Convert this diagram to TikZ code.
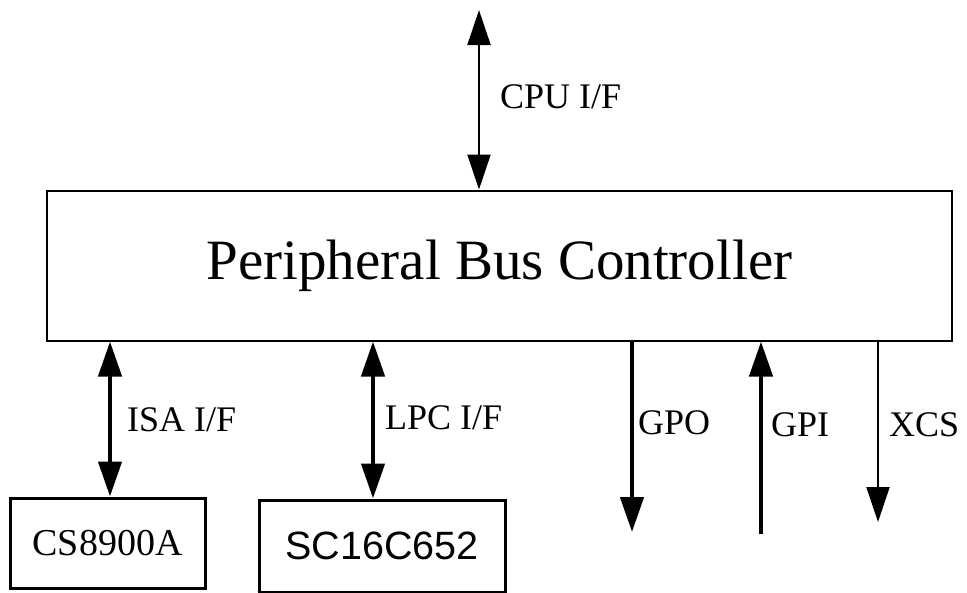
\documentclass[tikz,border=0pt]{standalone}
\usepackage{fontspec}
\setmainfont{Liberation Serif}
\newfontfamily\arialfont{Liberation Sans}
\usetikzlibrary{arrows.meta}
\tikzset{
  box/.style={draw, line width=2pt, inner sep=0pt},
  smallbox/.style={draw, line width=3pt, inner sep=0pt},
  lbl/.style={anchor=west, inner sep=0pt, font=\fontsize{36}{40}\selectfont},
  thinline/.style={line width=2pt},
  thickline/.style={line width=4.5pt},
  Bighead/.tip={Triangle[length=35pt,width=23pt]},
}
\begin{document}
\begin{tikzpicture}[x=1pt,y=-1pt]
\useasboundingbox (0,0) rectangle (967,592);
% main controller
\node[box, minimum width=905pt, minimum height=150pt, font=\fontsize{57}{60}\selectfont] (pbc) at (499.5,265.5) {Peripheral Bus Controller};
% peripheral boxes
\node[smallbox, minimum width=195pt, minimum height=90pt, font=\fontsize{38}{42}\selectfont] (cs) at (107.5,543) {CS8900A};
\node[smallbox, minimum width=246pt, minimum height=92pt, font=\arialfont\fontsize{39.5}{42}\selectfont] (sc) at (382,546) {SC16C652};
% free ends
\coordinate (cpu) at (479,10);
\coordinate (isa) at (110,0);
\coordinate (lpc) at (373,0);
\coordinate (gpo) at (632,532);
\coordinate (gpi) at (761,534);
\coordinate (xcs) at (878,522);
% connectors
\draw[thinline, Bighead-Bighead] (cpu) -- (cpu |- pbc.north);
\draw[thickline, Bighead-Bighead] (pbc.south -| isa) -- (cs.north -| isa);
\draw[thickline, Bighead-Bighead] (pbc.south -| lpc) -- (sc.north -| lpc);
\draw[thickline, -Bighead] (pbc.south -| gpo) -- (gpo);
\draw[thickline, -Bighead] (gpi) -- (gpi |- pbc.south);
\draw[thinline, -Bighead] (pbc.south -| xcs) -- (xcs);
% labels
\node[lbl] (lcpu) at (500,97) {CPU I/F};
\node[lbl] (lisa) at (127,420) {ISA I/F};
\node[lbl] (llpc) at (385,418) {LPC I/F};
\node[lbl] (lgpo) at (638,423) {GPO};
\node[lbl] (lgpi) at (771,425) {GPI};
\node[lbl] (lxcs) at (889,425) {XCS};
\end{tikzpicture}
\end{document}
